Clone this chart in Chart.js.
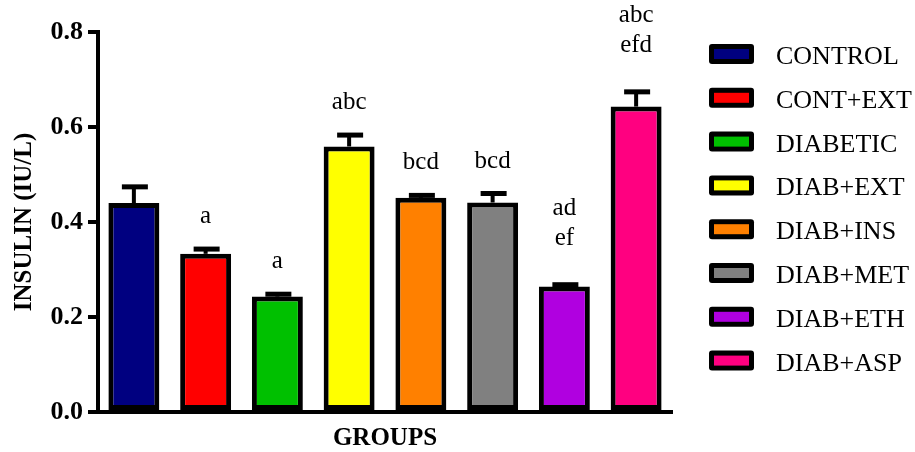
<!DOCTYPE html>
<html>
<head>
<meta charset="utf-8">
<script src="https://cdn.jsdelivr.net/npm/chart.js@4"></script>
<style>
  html, body { margin: 0; padding: 0; background: #ffffff; }
  #wrap { width: 915px; height: 452px; position: relative; }
</style>
</head>
<body>
<div id="wrap"><canvas id="chart"></canvas></div>
<script>
// Serum insulin per treatment group (mean ± SEM)
const groups = ['CONTROL', 'CONT+EXT', 'DIABETIC', 'DIAB+EXT', 'DIAB+INS', 'DIAB+MET', 'DIAB+ETH', 'DIAB+ASP'];
const insulinMean = [0.440, 0.333, 0.243, 0.559, 0.451, 0.441, 0.264, 0.643];
const insulinSem  = [0.034, 0.010, 0.005, 0.024, 0.005, 0.019, 0.004, 0.031];
// Significance letters, one entry per line
const sigLetters = [[], ['a'], ['a'], ['abc'], ['bcd'], ['bcd'], ['ad', 'ef'], ['abc', 'efd']];
const yTicks = [0.0, 0.2, 0.4, 0.6, 0.8];

const barColors = ['#000080', '#ff0000', '#00c000', '#ffff00', '#ff8000', '#808080', '#b000e0', '#ff0080'];
const SERIF = '"Liberation Serif", "Times New Roman", serif';

// Error bars: stem from bar top to a cap at mean + SEM
const errorBars = {
  id: 'errorBars',
  afterDatasetsDraw(chart) {
    const { ctx, scales: { y } } = chart;
    const meta = chart.getDatasetMeta(0);
    ctx.save();
    ctx.strokeStyle = '#000';
    meta.data.forEach((bar, i) => {
      const capY = y.getPixelForValue(insulinMean[i] + insulinSem[i]);
      ctx.lineWidth = 4;
      ctx.beginPath();
      ctx.moveTo(bar.x, bar.y);
      ctx.lineTo(bar.x, capY);
      ctx.stroke();
      ctx.lineWidth = 5;
      ctx.beginPath();
      ctx.moveTo(bar.x - 12, capY);
      ctx.lineTo(bar.x + 14, capY);
      ctx.stroke();
    });
    ctx.restore();
  }
};

// Letters above each error bar
const letterLabels = {
  id: 'letterLabels',
  afterDatasetsDraw(chart) {
    const { ctx, scales: { y } } = chart;
    const meta = chart.getDatasetMeta(0);
    ctx.save();
    ctx.fillStyle = '#000';
    ctx.font = '25px ' + SERIF;
    ctx.textAlign = 'center';
    ctx.textBaseline = 'alphabetic';
    meta.data.forEach((bar, i) => {
      const lines = sigLetters[i];
      if (!lines.length) return;
      const capY = y.getPixelForValue(insulinMean[i] + insulinSem[i]);
      const base = capY - (lines.length > 1 ? 40 : 26);
      lines.forEach((t, k) => {
        ctx.fillText(t, bar.x, base - (lines.length - 1 - k) * 30);
      });
    });
    ctx.restore();
  }
};

// Group key on the right
const groupKey = {
  id: 'groupKey',
  afterDraw(chart) {
    const { ctx } = chart;
    const x0 = 709, y0 = 54, step = 43.8, w = 45, h = 20, b = 5;
    ctx.save();
    ctx.font = '26px ' + SERIF;
    ctx.textBaseline = 'alphabetic';
    ctx.textAlign = 'left';
    groups.forEach((g, i) => {
      const cy = y0 + i * step;
      ctx.fillStyle = '#000';
      ctx.beginPath();
      ctx.roundRect(x0, cy - h / 2, w, h, 3);
      ctx.fill();
      ctx.fillStyle = barColors[i];
      ctx.fillRect(x0 + b, cy - h / 2 + b, w - 2 * b, h - 2 * b);
      ctx.fillStyle = '#000';
      ctx.fillText(g, 776, cy + 10);
    });
    ctx.restore();
  }
};

new Chart(document.getElementById('chart'), {
  type: 'bar',
  data: {
    labels: groups,
    datasets: [{
      data: insulinMean,
      backgroundColor: barColors,
      borderColor: '#000',
      borderWidth: 5,
      borderSkipped: false,
      barPercentage: 0.71,
      categoryPercentage: 1.0
    }]
  },
  options: {
    responsive: true,
    maintainAspectRatio: false,
    animation: false,
    layout: { padding: { top: 32, right: 243, bottom: 0, left: 0 } },
    plugins: {
      legend: { display: false },
      tooltip: { enabled: false }
    },
    scales: {
      x: {
        offset: true,
        grid: { display: false },
        border: { display: true, color: '#000', width: 4 },
        ticks: { display: false },
        title: {
          display: true,
          text: 'GROUPS',
          color: '#000',
          font: { family: SERIF, size: 25, weight: 'bold', lineHeight: 1 },
          padding: { top: 0, bottom: 1 }
        },
        afterFit(scale) { scale.height = 40; }
      },
      y: {
        min: 0,
        max: 0.8,
        afterBuildTicks(scale) { scale.ticks = yTicks.map(v => ({ value: v })); },
        grid: {
          drawOnChartArea: false,
          drawTicks: true,
          tickLength: 10,
          tickWidth: 4,
          tickColor: '#000',
          lineWidth: 4,
          color: '#000'
        },
        border: { display: true, color: '#000', width: 4 },
        ticks: {
          color: '#000',
          padding: 5,
          font: { family: SERIF, size: 26, weight: 'bold' },
          callback: v => Number(v).toFixed(1)
        },
        title: {
          display: true,
          text: 'INSULIN (IU/L)',
          color: '#000',
          font: { family: SERIF, size: 25, weight: 'bold', lineHeight: 1.2 },
          padding: { top: 10, bottom: 0 }
        },
        afterFit(scale) { scale.width = 98; }
      }
    }
  },
  plugins: [errorBars, letterLabels, groupKey]
});
</script>
</body>
</html>
